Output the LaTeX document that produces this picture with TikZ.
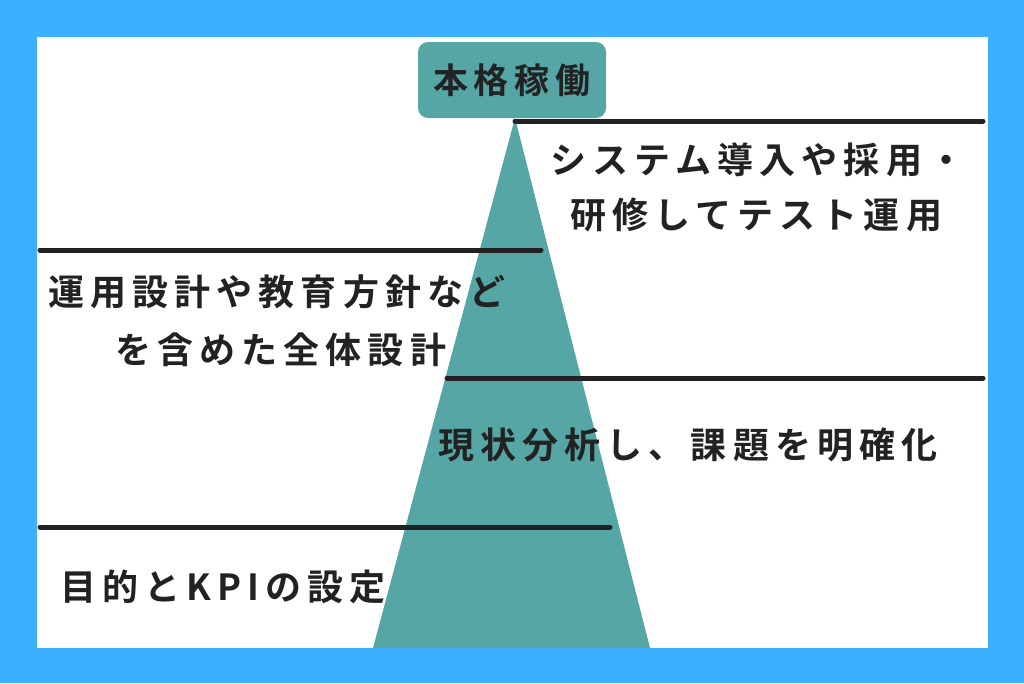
\documentclass[tikz,border=0pt]{standalone}
\usepackage{fontspec}
\newfontfamily\cjk{Noto Sans CJK JP}[BoldFont={Noto Sans CJK JP Bold},LetterSpace=17]
\definecolor{bg}{HTML}{3BB0FF}
\definecolor{teal}{HTML}{56A6A6}
\definecolor{ink}{HTML}{222222}
\begin{document}
\begin{tikzpicture}[x=1pt,y=-1pt,
  bar/.style={line width=5pt,line cap=round,draw=ink},
  lbl/.style={font=\cjk\bfseries\fontsize{36}{44}\selectfont,inner sep=0pt,text=ink}]
\fill[bg] (0,0) rectangle (1024,683);
\useasboundingbox (0,0) rectangle (1024,683);
\fill[white] (37,37) rectangle (988,648);
\fill[teal] (515,118) -- (650,648) -- (373,648) -- cycle;
\fill[teal,rounded corners=10pt] (418,42) rectangle (606,118);
\node[lbl,font=\cjk\bfseries\fontsize{35}{40}\selectfont] (top) at (512,80) {本格稼働};
\draw[bar] (515,121) -- (983,121);
\draw[bar] (40,250) -- (541,250);
\draw[bar] (447,378) -- (983,378);
\draw[bar] (40,527) -- (610,527);
\node[lbl,anchor=west] (t1) at (550,160) {システム導入や採用・};
\node[lbl,anchor=west] (t2) at (570,215) {研修してテスト運用};
\node[lbl,anchor=west] (t3) at (48,292) {運用設計や教育方針など};
\node[lbl,anchor=west] (t4) at (115,350) {を含めた全体設計};
\node[lbl,anchor=west] (t5) at (438,445) {現状分析し、課題を明確化};
\node[lbl,anchor=west] (t6) at (60,587) {目的とKPIの設定};
\end{tikzpicture}
\end{document}
